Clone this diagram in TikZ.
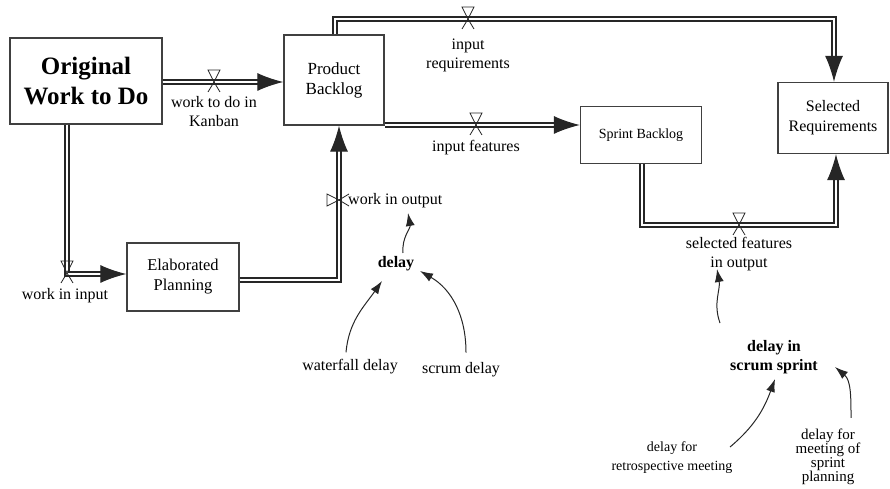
\documentclass[tikz,border=0pt]{standalone}
\usepackage{fontspec}
\setmainfont{Liberation Serif}
\usepackage{tikz}
\usetikzlibrary{positioning,arrows.meta,calc}
\tikzset{
  flowpipe/.style={-{Latex[length=26pt,width=18pt]}, draw=black!85, line width=1.2pt, double=white, double distance=2.8pt},
  linkarrow/.style={-{Latex[length=13pt,width=9pt]}, line width=1pt, black!85},
  stockbox/.style={draw=black!75, line width=1.3pt, fill=white, align=center, font=\fontsize{16.5}{20}\selectfont},
  flowlabel/.style={align=center, inner sep=1pt, font=\fontsize{16}{19}\selectfont},
  auxlabel/.style={align=center, inner sep=1pt, font=\fontsize{16}{19}\selectfont\bfseries},
  valveline/.style={line width=0.8pt, black!85},
  valve/.pic={
    \draw[valveline] (-6,12) -- (6,12) -- (0,0) -- cycle;
    \draw[valveline] (0,0) -- (-6,-10) (0,0) -- (6,-10);
  }
}

\begin{document}
\begin{tikzpicture}[x=1pt, y=1pt]
      \useasboundingbox (0,0) rectangle (890,489);
      % stocks
      \node[stockbox, minimum width=152pt, minimum height=86pt, font=\fontsize{25}{30}\selectfont\bfseries] (orig) at (86,408) {Original\\Work to Do};
      \node[stockbox, minimum width=100pt, minimum height=90pt, font=\fontsize{17}{20}\selectfont] (prodbl) at (334,409) {Product\\Backlog};
      \node[stockbox, minimum width=112pt, minimum height=68pt] (elabplan) at (183,212) {Elaborated\\Planning};
      \node[stockbox, minimum width=121pt, minimum height=57pt, font=\fontsize{14}{18}\selectfont] (sprintbl) at (641,354) {Sprint Backlog};
      \node[stockbox, minimum width=110pt, minimum height=71pt, font=\fontsize{16}{20}\selectfont] (selreq) at (833,371) {Selected\\Requirements};
      % bends and valves of the flows
      \coordinate (kanvalve) at (214,407);
      \coordinate (inbend) at (67,215);
      \coordinate (outbend) at (339,209);
      \coordinate (outvalve) at (339,289);
      \coordinate (reqleft) at (335,470);
      \coordinate (reqright) at (834,470);
      \coordinate (reqvalve) at (468,470);
      \coordinate (featvalve) at (476,364);
      \coordinate (selleft) at (642,264);
      \coordinate (selright) at (836,264);
      \coordinate (selvalve) at (739,264);
      % flows
      \draw[flowpipe] (orig.east |- kanvalve) -- (kanvalve -| prodbl.west);
      \draw[flowpipe] (orig.south -| inbend) -- (inbend) -- (inbend -| elabplan.west);
      \draw[flowpipe] (outbend -| elabplan.east) -- (outbend) -- (outbend |- prodbl.south);
      \draw[flowpipe] (reqleft |- prodbl.north) -- (reqleft) -- (reqright) -- (reqright |- selreq.north);
      \draw[flowpipe] (prodbl.east |- featvalve) -- (featvalve -| sprintbl.west);
      \draw[flowpipe] (selleft |- sprintbl.south) -- (selleft) -- (selright) -- (selright |- selreq.south);
      \pic at (kanvalve) {valve};
      \pic at (67,216) {valve};
      \pic[rotate=90] at (outvalve) {valve};
      \pic at (reqvalve) {valve};
      \pic at (featvalve) {valve};
      \pic at (selvalve) {valve};
      % flow labels
      \node[flowlabel] (lkanban) at (214,377) {work to do in\\Kanban};
      \node[flowlabel] (lwinput) at (65,193) {work in input};
      \node[flowlabel, anchor=west] (lwoutput) at (347,288) {work in output};
      \node[flowlabel] (linreq) at (468,434) {input\\requirements};
      \node[flowlabel] (linfeat) at (476,341) {input features};
      \node[flowlabel] (lselfeat) at (739,235) {selected features\\in output};
      % auxiliaries
      \node[auxlabel] (delay) at (396,225) {delay};
      \node[flowlabel] (wfdelay) at (350,122) {waterfall delay};
      \node[flowlabel] (scdelay) at (461,119) {scrum delay};
      \node[auxlabel] (sprdelay) at (774,132) {delay in\\scrum sprint};
      \node[flowlabel, font=\fontsize{14}{19}\selectfont] (retrodelay) at (672,31) {delay for\\retrospective meeting};
      \node[flowlabel, font=\fontsize{15}{14}\selectfont] (plandelay) at (828,32) {delay for\\meeting of\\sprint\\planning};
      % links
      \draw[linkarrow] (403,236) to[out=95, in=-80] (408,276);
      \draw[linkarrow] (wfdelay.north) ++(-4,6) to[out=85, in=-125] (382,208);
      \draw[linkarrow] (scdelay.north) ++(5,9) to[out=90, in=-30] (420,218);
      \draw[linkarrow] (720,166) to[out=110, in=-80] (717,220);
      \draw[linkarrow] (730,42) to[out=40, in=-110] (775,110);
      \draw[linkarrow] (851,71) to[out=90, in=-40] (835,122);
    \end{tikzpicture}
\end{document}
